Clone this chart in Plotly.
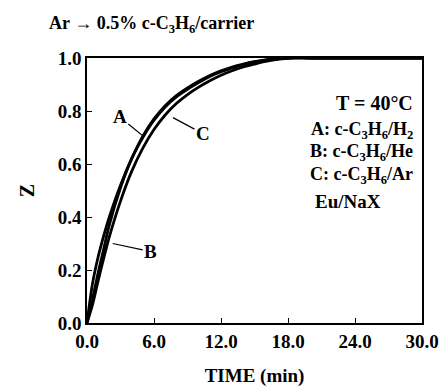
import plotly.graph_objects as go

# time grid (min)
time_min = [0, 0.5, 1, 1.5, 2, 3, 4, 5, 6, 7, 8, 9, 10, 11, 12, 13, 14, 15, 16, 17, 18, 20, 25, 30]
# Z for each carrier
z_a = [0, 0.09, 0.19, 0.28, 0.37, 0.51, 0.62, 0.70, 0.765, 0.815, 0.853, 0.882, 0.907, 0.93, 0.948, 0.963, 0.975, 0.985, 0.992, 0.997, 1.0, 1.0, 1.0, 1.0]
z_b = [0, 0.15, 0.25, 0.33, 0.40, 0.52, 0.62, 0.705, 0.77, 0.82, 0.858, 0.887, 0.912, 0.934, 0.952, 0.966, 0.977, 0.986, 0.993, 0.997, 1.0, 1.0, 1.0, 1.0]
z_c = [0, 0.07, 0.16, 0.245, 0.325, 0.46, 0.572, 0.66, 0.73, 0.785, 0.828, 0.862, 0.89, 0.914, 0.935, 0.952, 0.966, 0.977, 0.987, 0.994, 1.0, 1.0, 1.0, 1.0]

x_ticks = [0, 6, 12, 18, 24, 30]
y_ticks = [0.0, 0.2, 0.4, 0.6, 0.8, 1.0]

FONT = "Liberation Serif"

fig = go.Figure()
for name, z in [("A", z_a), ("B", z_b), ("C", z_c)]:
    fig.add_trace(go.Scatter(x=time_min, y=z, mode="lines", name=name,
                             line=dict(color="black", width=2.8, shape="spline", smoothing=0.8),
                             showlegend=False))

fig.update_layout(
    width=439, height=392,
    margin=dict(l=87, r=17, t=58, b=69),
    paper_bgcolor="white", plot_bgcolor="white",
    font=dict(family=FONT, size=19, color="black", weight="bold"),
)
fig.update_xaxes(range=[0, 30], tickvals=x_ticks, tickformat=".1f", automargin=False,
                 ticks="inside", ticklen=5, tickwidth=1.3, tickcolor="black",
                 showline=True, linecolor="black", linewidth=1.5, mirror=True,
                 showgrid=False, zeroline=False,
                 tickfont=dict(family=FONT, size=19, weight="bold"),
                 title=dict(text="TIME (min)", standoff=18,
                            font=dict(family=FONT, size=19, weight="bold")))
fig.update_yaxes(range=[0, 1.0], tickvals=y_ticks, tickformat=".1f", automargin=False,
                 ticks="inside", ticklen=5, tickwidth=1.3, tickcolor="black",
                 showline=True, linecolor="black", linewidth=1.5, mirror=True,
                 showgrid=False, zeroline=False,
                 tickfont=dict(family=FONT, size=19, weight="bold"),
                 title=dict(text="Z", standoff=18,
                            font=dict(family=FONT, size=20, weight="bold")))

# title
fig.add_annotation(text="Ar \u2192 0.5% c-C<sub>3</sub>H<sub>6</sub>/carrier",
                   xref="paper", yref="paper", x=-0.12, y=1.128, xanchor="left", yanchor="middle",
                   showarrow=False, font=dict(family=FONT, size=18, weight="bold"))

# in-plot text
fig.add_annotation(text="T = 40\u00b0C", xref="paper", yref="paper", x=0.98, y=0.83,
                   xanchor="right", yanchor="middle", showarrow=False,
                   font=dict(family=FONT, size=20, weight="bold"))
legend_lines = ["A: c-C<sub>3</sub>H<sub>6</sub>/H<sub>2</sub>",
                "B: c-C<sub>3</sub>H<sub>6</sub>/He",
                "C: c-C<sub>3</sub>H<sub>6</sub>/Ar"]
for i, t in enumerate(legend_lines):
    fig.add_annotation(text=t, xref="paper", yref="paper", x=0.98, y=0.728 - i * 0.086,
                       xanchor="right", yanchor="middle", showarrow=False,
                       font=dict(family=FONT, size=18, weight="bold"))
fig.add_annotation(text="Eu/NaX", xref="paper", yref="paper", x=0.78, y=0.46,
                   xanchor="center", yanchor="middle", showarrow=False,
                   font=dict(family=FONT, size=19, weight="bold"))

# curve labels with pointer lines
for lab, xh, yh, ax, ay in [("A", 5.0, 0.706, -23, -19), ("C", 7.7, 0.775, 30, 16), ("B", 2.3, 0.30, 38, 8)]:
    fig.add_annotation(text=lab, x=xh, y=yh, xref="x", yref="y", ax=ax, ay=ay,
                       showarrow=True, arrowhead=0, arrowwidth=1.2, arrowcolor="black",
                       font=dict(family=FONT, size=19, weight="bold"))

fig.write_html("out.html")
